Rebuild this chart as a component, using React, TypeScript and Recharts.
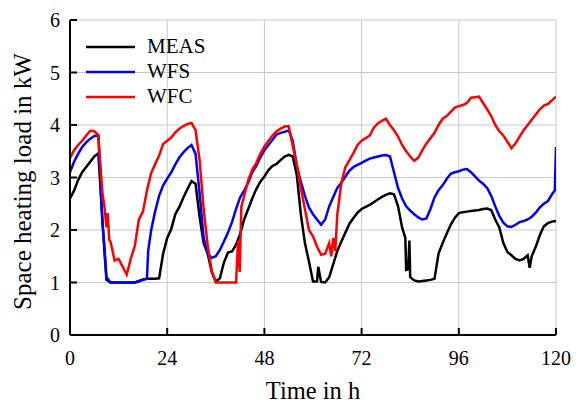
import React from "react";
import { LineChart, Line, XAxis, YAxis, CartesianGrid, Legend } from "recharts";

// hourly samples, 0..120 h
const hours = Array.from({ length: 121 }, (_, i) => i);

const meas = [
  2.6, 2.75, 2.95, 3.1, 3.2, 3.3, 3.4, 3.46, 2.2, 1.05, 1.0, 1.0,
  1.0, 1.0, 1.0, 1.0, 1.0, 1.03, 1.06, 1.07, 1.07, 1.07, 1.08, 1.55,
  1.85, 2.02, 2.3, 2.44, 2.62, 2.78, 2.93, 2.88, 2.25, 1.75, 1.55, 1.2,
  1.02, 1.08, 1.38, 1.57, 1.59, 1.72, 1.92, 2.2, 2.4, 2.6, 2.78, 2.92,
  3.02, 3.14, 3.22, 3.26, 3.33, 3.4, 3.43, 3.4, 3.05, 2.3, 1.75, 1.4,
  1.02, 1.02, 1.01, 1.0, 1.1, 1.35, 1.6, 1.78, 1.95, 2.12, 2.23, 2.33,
  2.4, 2.44, 2.48, 2.53, 2.58, 2.63, 2.67, 2.7, 2.68, 2.45, 2.05, 1.24,
  1.1, 1.04, 1.02, 1.03, 1.04, 1.05, 1.07, 1.55, 1.75, 1.93, 2.1, 2.23,
  2.32, 2.34, 2.35, 2.36, 2.37, 2.38, 2.4, 2.41, 2.38, 2.2, 2.05, 1.75,
  1.58, 1.52, 1.45, 1.42, 1.45, 1.52, 1.5, 1.68, 1.9, 2.07, 2.13, 2.16,
  2.17,
];
const measSpikes: [number, number][] = [
  [8.5, 1.6], [61.3, 1.3], [82.8, 1.85], [83.5, 1.25], [83.8, 1.8], [113.5, 1.28],
];

const wfs = [
  3.1, 3.3, 3.45, 3.58, 3.67, 3.74, 3.79, 3.8, 2.13, 1.1, 1.0, 1.0,
  1.0, 1.0, 1.0, 1.0, 1.0, 1.02, 1.05, 1.07, 1.98, 2.35, 2.65, 2.85,
  2.98, 3.1, 3.25, 3.38, 3.48, 3.56, 3.62, 3.45, 2.7, 1.85, 1.55, 1.47,
  1.5, 1.62, 1.78, 1.95, 2.15, 2.4, 2.62, 2.75, 2.9, 3.1, 3.22, 3.38,
  3.52, 3.62, 3.72, 3.82, 3.85, 3.87, 3.9, 3.7, 3.22, 2.92, 2.65, 2.43,
  2.3, 2.2, 2.1, 2.2, 2.45, 2.63, 2.8, 2.9, 3.02, 3.13, 3.2, 3.24,
  3.28, 3.32, 3.36, 3.38, 3.4, 3.42, 3.43, 3.4, 3.1, 2.8, 2.6, 2.45,
  2.37, 2.3, 2.24, 2.2, 2.22, 2.4, 2.62, 2.76, 2.85, 2.97, 3.07, 3.1,
  3.12, 3.15, 3.16, 3.1, 3.02, 2.94, 2.88, 2.8, 2.65, 2.45, 2.27, 2.14,
  2.07, 2.06, 2.1, 2.15, 2.17, 2.2, 2.25, 2.33, 2.43, 2.5, 2.55, 2.68,
  3.58,
];
const wfsSpikes: [number, number][] = [[8.5, 1.68], [19.3, 1.6], [119.7, 2.75]];

const wfc = [
  3.37, 3.52, 3.62, 3.7, 3.8, 3.89, 3.88, 3.81, 2.7, 2.05, 1.78, 1.42,
  1.45, 1.3, 1.15, 1.45, 1.7, 2.2, 2.35, 2.75, 3.08, 3.25, 3.42, 3.64,
  3.7, 3.76, 3.86, 3.93, 3.98, 4.02, 4.04, 3.9, 3.33, 2.4, 1.7, 1.22,
  1.0, 1.0, 1.0, 1.0, 1.0, 1.0, 1.5, 2.65, 2.95, 3.15, 3.28, 3.45,
  3.59, 3.7, 3.8, 3.88, 3.93, 3.97, 3.98, 3.6, 3.25, 2.8, 2.4, 2.0,
  1.88, 1.68, 1.53, 1.55, 1.75, 1.85, 2.3, 2.9, 3.2, 3.33, 3.47, 3.62,
  3.7, 3.75, 3.8, 3.95, 4.03, 4.08, 4.12, 4.0, 3.9, 3.78, 3.62, 3.5,
  3.4, 3.32, 3.38, 3.52, 3.65, 3.75, 3.85, 4.0, 4.12, 4.17, 4.25, 4.33,
  4.36, 4.38, 4.42, 4.52, 4.53, 4.54, 4.42, 4.3, 4.17, 4.0, 3.88, 3.8,
  3.68, 3.56, 3.65, 3.78, 3.9, 4.0, 4.1, 4.2, 4.3, 4.37, 4.4, 4.47,
  4.54,
];
const wfcSpikes: [number, number][] = [
  [8.5, 2.45], [9.3, 2.32], [9.7, 1.81], [41.5, 1.8], [41.9, 1.2], [42.3, 2.44],
  [64.5, 1.5], [65.5, 1.6],
];

const xTicks = [0, 24, 48, 72, 96, 120];
const yTicks = [0, 1, 2, 3, 4, 5, 6];

const series = [
  { name: "MEAS", color: "#000000", values: meas, spikes: measSpikes },
  { name: "WFS", color: "#0000ff", values: wfs, spikes: wfsSpikes },
  { name: "WFC", color: "#ff0000", values: wfc, spikes: wfcSpikes },
];

const toPoints = (values: number[], spikes: [number, number][]) =>
  [
    ...hours.map((h, i) => ({ h, v: values[i] })),
    ...spikes.map(([h, v]) => ({ h, v })),
  ].sort((a, b) => a.h - b.h);

const FONT = "'Liberation Serif', 'Times New Roman', serif";
const W = 571;
const H = 395;
const LEFT = 62;
const TOP = 12;
const RIGHT = 548;
const BOTTOM = 327;

const BottomTick = (props: any) => {
  const { x, y, payload } = props;
  return (
    <g>
      <line x1={x} y1={y} x2={x} y2={y - 7} stroke="#000" strokeWidth={2} />
      <text x={x} y={y + 30} textAnchor="middle" fontFamily={FONT} fontSize={20} fill="#000">
        {payload.value}
      </text>
    </g>
  );
};

const LeftTick = (props: any) => {
  const { x, y, payload } = props;
  return (
    <g>
      <line x1={x} y1={y} x2={x + 7} y2={y} stroke="#000" strokeWidth={2} />
      <text x={x - 10} y={y + 7} textAnchor="end" fontFamily={FONT} fontSize={20} fill="#000">
        {payload.value}
      </text>
    </g>
  );
};

const TopTick = (props: any) => {
  const { x, y } = props;
  return <line x1={x} y1={y} x2={x} y2={y + 7} stroke="#000" strokeWidth={2} />;
};

const RightTick = (props: any) => {
  const { x, y } = props;
  return <line x1={x} y1={y} x2={x - 7} y2={y} stroke="#000" strokeWidth={2} />;
};

const XLabel = () => (
  <text x={(LEFT + RIGHT) / 2} y={391} textAnchor="middle" fontFamily={FONT} fontSize={24.5} fill="#000">
    Time in h
  </text>
);

const YLabel = () => {
  const cx = 23;
  const cy = (TOP + BOTTOM) / 2 + 4;
  return (
    <text
      x={cx}
      y={cy}
      transform={`rotate(-90 ${cx} ${cy})`}
      textAnchor="middle"
      fontFamily={FONT}
      fontSize={25}
      fill="#000"
    >
      Space heating load in kW
    </text>
  );
};

const LegendBox = () => (
  <div style={{ fontFamily: FONT, fontSize: 21, color: "#000" }}>
    {series.map((s) => (
      <div key={s.name} style={{ display: "flex", alignItems: "center", height: 25 }}>
        <svg width={49} height={4} style={{ display: "block" }}>
          <line x1={0} y1={2} x2={49} y2={2} stroke={s.color} strokeWidth={2.5} />
        </svg>
        <span style={{ marginLeft: 12, lineHeight: "25px" }}>{s.name}</span>
      </div>
    ))}
  </div>
);

export default function App() {
  const axisLine = { stroke: "#000", strokeWidth: 2 };
  return (
    <div style={{ width: W, height: H }}>
      <LineChart width={W} height={H} margin={{ top: TOP, right: W - RIGHT, bottom: 0, left: 0 }}>
        <CartesianGrid xAxisId="b" yAxisId="l" stroke="#c8c8c8" strokeWidth={1} />
        <XAxis
          xAxisId="b"
          type="number"
          dataKey="h"
          domain={[0, 120]}
          ticks={xTicks}
          interval={0}
          allowDataOverflow
          tickLine={false}
          tickSize={0}
          tickMargin={0}
          axisLine={axisLine}
          height={H - BOTTOM}
          tick={<BottomTick />}
          label={<XLabel />}
        />
        <XAxis
          xAxisId="t"
          orientation="top"
          type="number"
          domain={[0, 120]}
          ticks={[24, 48, 72, 96]}
          interval={0}
          allowDataOverflow
          tickLine={false}
          tickSize={0}
          tickMargin={0}
          axisLine={axisLine}
          height={0}
          tick={<TopTick />}
        />
        <YAxis
          yAxisId="l"
          type="number"
          domain={[0, 6]}
          ticks={yTicks}
          interval={0}
          allowDataOverflow
          tickLine={false}
          tickSize={0}
          tickMargin={0}
          axisLine={axisLine}
          width={LEFT}
          tick={<LeftTick />}
          label={<YLabel />}
        />
        <YAxis
          yAxisId="r"
          orientation="right"
          type="number"
          domain={[0, 6]}
          ticks={[1, 2, 3, 4, 5]}
          interval={0}
          allowDataOverflow
          tickLine={false}
          tickSize={0}
          tickMargin={0}
          axisLine={axisLine}
          width={0}
          tick={<RightTick />}
        />
        {series.map((s) => (
          <Line
            key={s.name}
            xAxisId="b"
            yAxisId="l"
            data={toPoints(s.values, s.spikes)}
            dataKey="v"
            name={s.name}
            type="linear"
            stroke={s.color}
            strokeWidth={2.5}
            dot={false}
            activeDot={false}
            isAnimationActive={false}
          />
        ))}
        <Legend
          layout="vertical"
          align="center"
          verticalAlign="middle"
          wrapperStyle={{ left: 78, top: 26, width: "auto" }}
          content={() => <LegendBox />}
        />
      </LineChart>
    </div>
  );
}
